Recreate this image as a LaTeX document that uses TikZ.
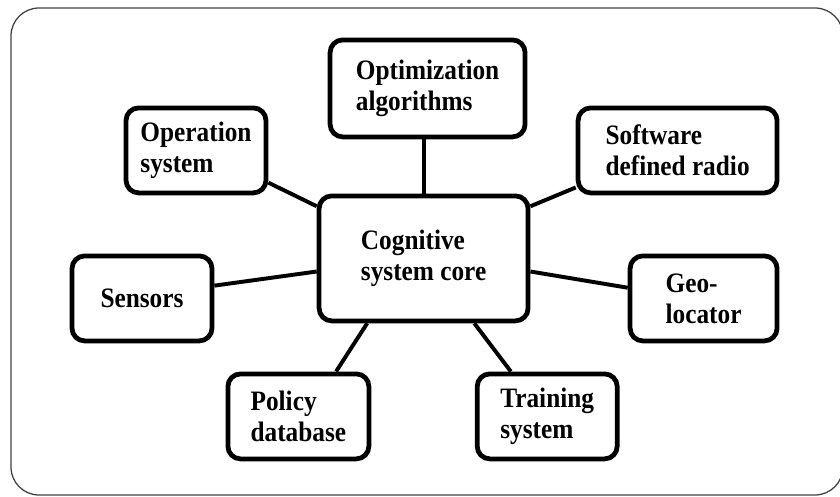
\documentclass[tikz,border=0pt]{standalone}
\usepackage{fontspec}
\setmainfont{Liberation Serif}[FakeStretch=0.9]
\begin{document}
\begin{tikzpicture}[
    blk/.style={draw, line width=3.4pt, rounded corners=9pt, fill=white, align=left,
        inner sep=0pt, font=\fontsize{20}{22}\selectfont\bfseries},
    lnk/.style={line width=2.8pt}]
    \useasboundingbox (0,0) rectangle (21,12.4);
    \draw[line width=0.9pt, black!75, rounded corners=0.7cm] (0.275,0.025) rectangle (21.075,12.2);

    \node[blk, minimum width=5.225cm, minimum height=3.125cm] (AA) at (10.59,5.94) {Cognitive\\system core};
    \node[blk, minimum width=4.875cm, minimum height=2.425cm] (AB) at (10.69,10.19) {Optimization\\algorithms};
    \node[blk, minimum width=3.5cm, minimum height=2.125cm] (AC) at (4.9,8.64) {Operation\\system};
    \node[blk, minimum width=4.975cm, minimum height=2.125cm] (AD) at (16.94,8.64) {Software\\defined radio};
    \node[blk, minimum width=3.5cm, minimum height=2.125cm] (AE) at (3.55,4.94) {Sensors};
    \node[blk, minimum width=3.675cm, minimum height=2.125cm] (AF) at (17.59,4.94) {Geo-\\locator};
    \node[blk, minimum width=3.525cm, minimum height=2.125cm] (AG) at (7.46,1.99) {Policy\\database};
    \node[blk, minimum width=3.5cm, minimum height=2.125cm] (AH) at (13.68,1.99) {Training\\system};

    \draw[lnk] (AA.north)--(AA.north |- AB.south);
    \draw[lnk] (AC.-24)--(AA.154);
    \draw[lnk] (AD.200)--(AA.26);
    \draw[lnk] (AE.10)--(AA.187);
    \draw[lnk] (AF.172)--(AA.-7);
    \draw[lnk] (AG.50)--(AA.229);
    \draw[lnk] (AH.129)--(AA.-52);
\end{tikzpicture}
\end{document}
